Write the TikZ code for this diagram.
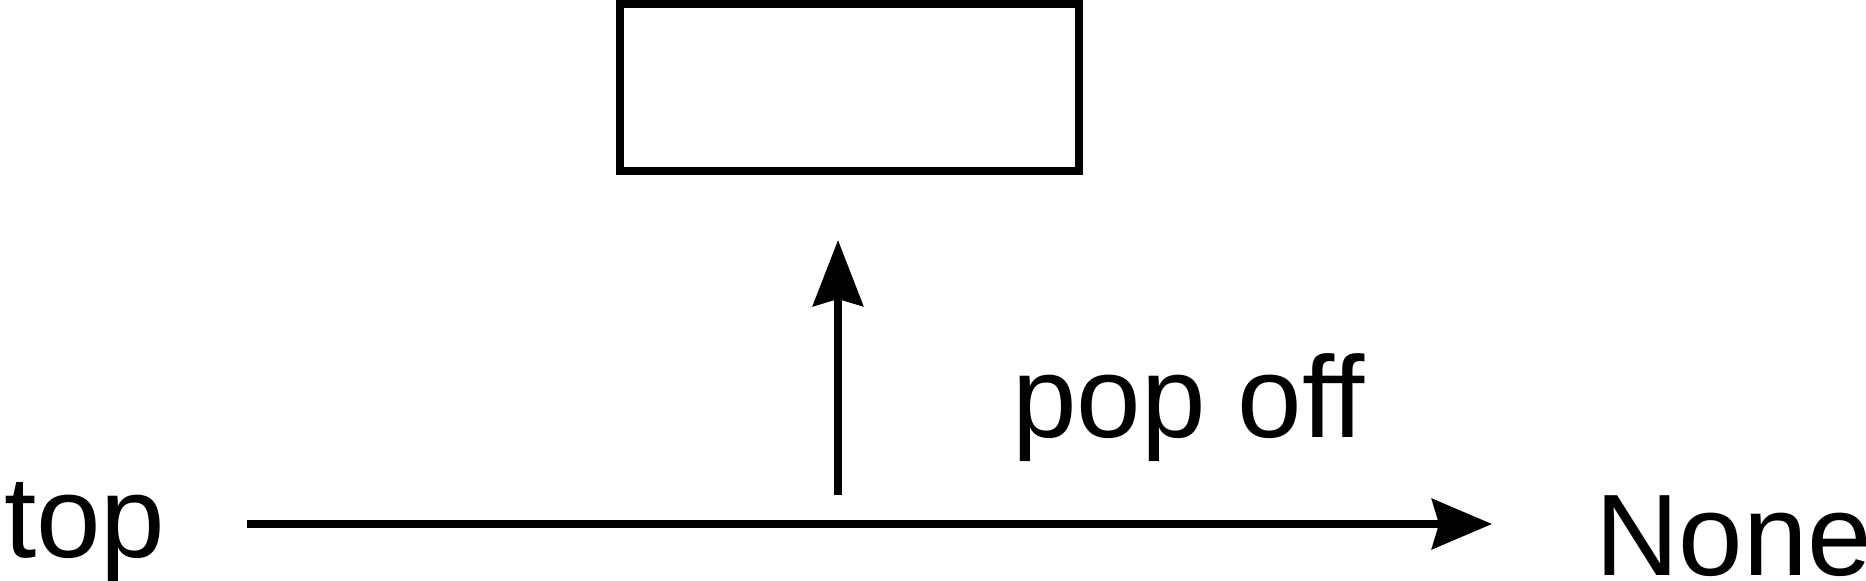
\documentclass[tikz,border=0pt]{standalone}
\usepackage{fontspec}
\setmainfont{Liberation Sans}
\usetikzlibrary{arrows.meta}
\begin{document}
\begin{tikzpicture}[x=0.5pt,y=-0.5pt,line width=4pt,
	every node/.style={inner sep=0pt,font=\fontsize{58}{70}\selectfont},
	flow/.style={-{Stealth[length=30pt,width=25pt,inset=3.5pt]}},
	lift/.style={-{Stealth[length=33pt,width=25pt,inset=3.5pt]}}]
	\useasboundingbox (0,0) rectangle (1866,581);
	\def\ybase{524};\def\xpop{838};
	\node[draw,minimum width=229.5pt,minimum height=83.5pt] (stack) at (849.5,87.5) {};
	\node[anchor=base west] (top) at (0,558) {top};
	\node[anchor=base west] (none) at (1591,575) {None};
	\node[anchor=base west] (pop) at (1008,438) {pop off};
	\coordinate (start) at (247,\ybase);
	\coordinate (end) at (1492,\ybase);
	\coordinate (foot) at (\xpop,495);
	\coordinate (head) at (\xpop,240);
	\draw[flow] (start)--(end);
	\draw[lift] (foot)--(head);
\end{tikzpicture}
\end{document}
